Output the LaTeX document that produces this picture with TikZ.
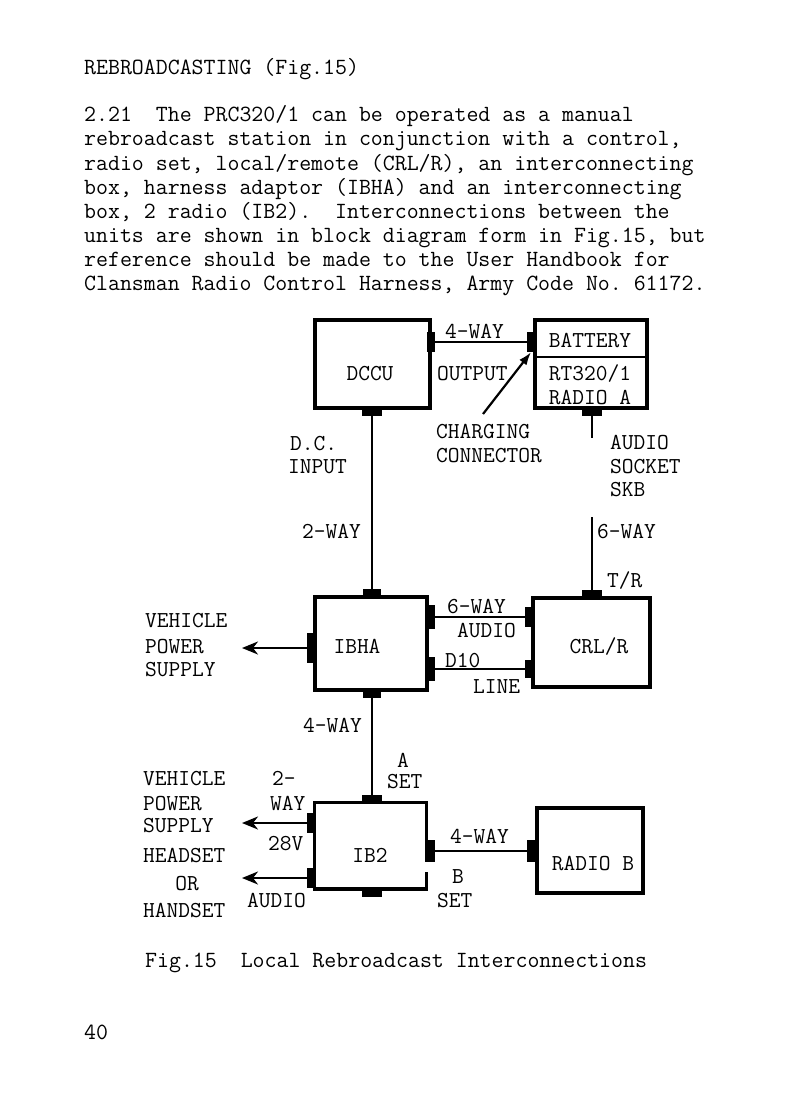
\documentclass[tikz,border=0pt]{standalone}
\usetikzlibrary{arrows.meta}
\newcommand\bodyfont{\fontsize{23.2}{24}\selectfont\ttfamily}
\newcommand\lblfont{\fontsize{22.8}{24}\selectfont\ttfamily}
\begin{document}
\frenchspacing
\begin{tikzpicture}[x=1pt,y=-1pt,
  box/.style={draw, line width=3.2pt, inner sep=0pt},
  conn/.style={fill, draw=none, inner sep=0pt},
  wire/.style={line width=2.2pt},
  lbl/.style={font=\lblfont, inner sep=0pt, anchor=base west},
  lblc/.style={font=\lblfont, inner sep=0pt, anchor=base},
  txt/.style={font=\bodyfont, inner sep=0pt, anchor=base west},
  outarrow/.style={wire, -{Stealth[length=16pt,width=13pt,inset=5pt]}},
  chgarrow/.style={wire, -{Latex[length=13pt,width=9pt]}}
]
\useasboundingbox[fill=white] (0,0) rectangle (792,1097);

% ---- text ----
\node[txt] (head) at (84,75) {REBROADCASTING (Fig.15)};
\node[txt] (l1) at (84,122) {2.21~ The PRC320/1 can be operated as a manual};
\node[txt] (l2) at (84,146) {rebroadcast station in conjunction with a control,};
\node[txt] (l3) at (84,170) {radio set, local/remote (CRL/R), an interconnecting};
\node[txt] (l4) at (84,194) {box, harness adaptor (IBHA) and an interconnecting};
\node[txt] (l5) at (84,218) {box, 2 radio (IB2).~ Interconnections between the};
\node[txt] (l6) at (84,242) {units are shown in block diagram form in Fig.15, but};
\node[txt] (l7) at (84,266) {reference should be made to the User Handbook for};
\node[txt] (l8) at (84,290) {Clansman Radio Control Harness, Army Code No. 61172.};
\node[txt] (cap) at (145,967) {Fig.15~ Local Rebroadcast Interconnections};
\node[txt] (pg) at (84,1039) {40};

% ---- boxes ----
\node[box, minimum width=115pt, minimum height=88pt] (dccu) at (372.5,364) {};
\node[box, minimum width=112pt, minimum height=88pt] (radioA) at (591,364) {};
\node[box, minimum width=112pt, minimum height=93pt] (ibha) at (371,643.5) {};
\node[box, minimum width=117pt, minimum height=89pt] (crlr) at (591.5,642.5) {};
\node[inner sep=0pt, minimum width=111pt, minimum height=86pt] (ib2) at (370.5,846) {};
\node[box, minimum width=106pt, minimum height=85pt] (radiob) at (590,850.5) {};

\draw[line width=2.8pt] ([yshift=7pt]radioA.west) -- ([yshift=7pt]radioA.east);
\draw[line width=3.2pt] ([yshift=-59pt]ib2.north east) -- (ib2.north east) -- (ib2.north west)
   -- (ib2.south west) -- (ib2.south east) -- ([yshift=17pt]ib2.south east);
\draw[line width=4.5pt] (ib2.south west) -- (ib2.south east);

% ---- connectors ----
\node[conn, minimum width=8pt, minimum height=20pt] (dccuR) at (431,342) {};
\node[conn, minimum width=8pt, minimum height=20pt] (batL) at (531,342) {};
\node[conn, minimum width=20pt, minimum height=8pt] (dccuB) at (372,412) {};
\node[conn, minimum width=20pt, minimum height=8pt] (raB) at (592,412) {};
\node[conn, minimum width=18pt, minimum height=8pt] (ibhaT) at (372,593) {};
\node[conn, minimum width=8pt, minimum height=30pt] (ibhaL) at (311,648) {};
\node[conn, minimum width=8pt, minimum height=24pt] (ibhaR1) at (431,617) {};
\node[conn, minimum width=8pt, minimum height=24pt] (ibhaR2) at (431,669) {};
\node[conn, minimum width=18pt, minimum height=8pt] (ibhaB) at (372,694) {};
\node[conn, minimum width=20pt, minimum height=8pt] (crlT) at (592,594) {};
\node[conn, minimum width=8pt, minimum height=20pt] (crlL1) at (529,617) {};
\node[conn, minimum width=8pt, minimum height=18pt] (crlL2) at (529,669) {};
\node[conn, minimum width=20pt, minimum height=8pt] (ib2T) at (372,799) {};
\node[conn, minimum width=8pt, minimum height=20pt] (ib2L1) at (311,823) {};
\node[conn, minimum width=8pt, minimum height=20pt] (ib2L2) at (311,878) {};
\node[conn, minimum width=9pt, minimum height=22pt] (ib2R) at (430.5,851) {};
\node[conn, minimum width=20pt, minimum height=8pt] (ib2B) at (372,893) {};
\node[conn, minimum width=10pt, minimum height=22pt] (rbL) at (532,851) {};

% ---- wires ----
\draw[wire] (dccuR.east) -- (batL.west);
\draw[wire] (dccuB.south) -- (ibhaT.north);
\coordinate (raStub) at (592,438);
\draw[wire] (raB.south) -- (raStub);
\coordinate (sixTop) at (592,517);
\draw[wire] (sixTop) -- (crlT.north);
\draw[wire] (ibhaR1.east) -- (crlL1.west);
\draw[wire] (ibhaR2.east) -- (crlL2.west);
\draw[wire] (ibhaB.south) -- (ib2T.north);
\draw[wire] (ib2R.east) -- (rbL.west);
\coordinate (vps1) at (242,648);
\draw[outarrow] (ibhaL.west) -- (vps1);
\coordinate (vps2) at (242,823);
\draw[outarrow] (ib2L1.west) -- (vps2);
\coordinate (hset) at (242,878);
\draw[outarrow] (ib2L2.west) -- (hset);
\coordinate (chg) at (483,414);
\draw[chgarrow] (chg) -- (batL.south);

% ---- labels ----
\node[lbl] (t4way) at (445,338) {4-WAY};
\node[lbl] (tout) at (437,380) {OUTPUT};
\node[lblc] (tdccu) at (370,380) {DCCU};
\node[lblc] (tbat) at (590,347) {BATTERY};
\node[lblc] (trt) at (590,380) {RT320/1};
\node[lblc] (tra) at (590,404) {RADIO A};
\node[lbl] (tchg1) at (436,438) {CHARGING};
\node[lbl] (tchg2) at (436,462) {CONNECTOR};
\node[lbl] (tdc1) at (290,450) {D.C.};
\node[lbl] (tdc2) at (288,473) {INPUT};
\node[lbl] (tau1) at (610,449) {AUDIO};
\node[lbl] (tau2) at (610,473) {SOCKET};
\node[lbl] (tau3) at (610,496) {SKB};
\node[lbl] (t2way) at (302,538) {2-WAY};
\node[lbl] (t6way) at (597,538) {6-WAY};
\node[lbl] (ttr) at (607,587) {T/R};

\node[lbl] (tv1) at (145,627) {VEHICLE};
\node[lbl] (tv2) at (145,653) {POWER};
\node[lbl] (tv3) at (145,676) {SUPPLY};
\node[lblc] (tibha) at (357,653) {IBHA};
\node[lblc] (tcrl) at (599,653) {CRL/R};
\node[lbl] (t6w2) at (447,613) {6-WAY};
\node[lbl] (taud) at (457,637) {AUDIO};
\node[lbl] (td10) at (445,667) {D10};
\node[lbl] (tline) at (473,693) {LINE};

\node[lbl] (t4w2) at (303,732) {4-WAY};
\node[lblc] (ta) at (403,767) {A};
\node[lbl] (tset1) at (387,788) {SET};
\node[lbl] (tw1) at (143,785) {VEHICLE};
\node[lbl] (tw2) at (143,810) {POWER};
\node[lbl] (tw3) at (143,832) {SUPPLY};
\node[lbl] (th1) at (143,862) {HEADSET};
\node[lblc] (th2) at (187,890) {OR};
\node[lbl] (th3) at (143,917) {HANDSET};
\node[lbl] (t2d) at (272,785) {2-};
\node[lbl] (tway) at (270,810) {WAY};
\node[lbl] (t28) at (268,850) {28V};
\node[lbl] (taud2) at (247,907) {AUDIO};
\node[lbl] (t4w3) at (450,843) {4-WAY};
\node[lblc] (tb) at (458,883) {B};
\node[lbl] (tset2) at (437,907) {SET};
\node[lblc] (tib2) at (370,862) {IB2};
\node[lblc] (trb) at (593,870) {RADIO B};
\end{tikzpicture}
\end{document}
